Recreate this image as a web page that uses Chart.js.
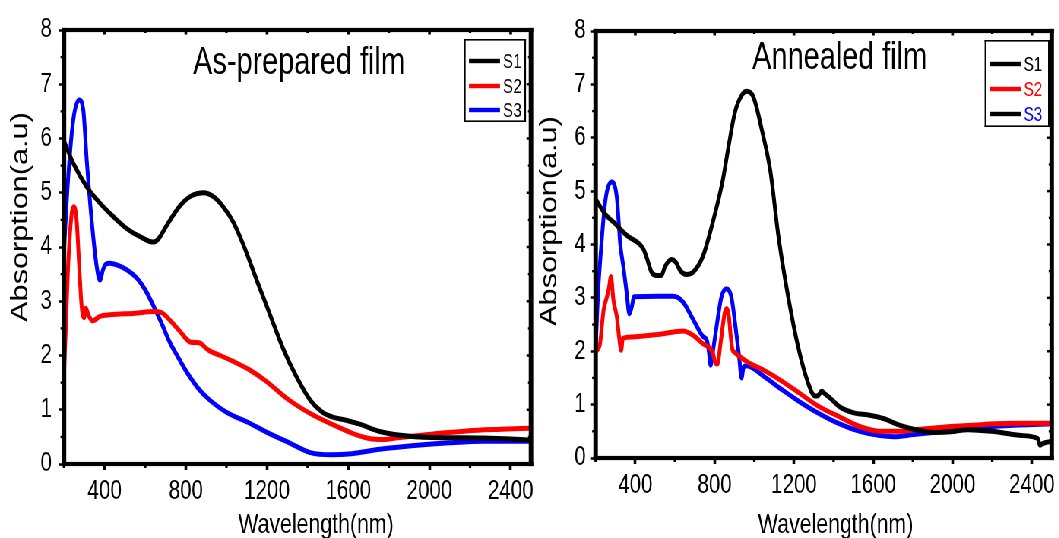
<!DOCTYPE html>
<html>
<head>
<meta charset="utf-8">
<script src="https://cdn.jsdelivr.net/npm/chart.js"></script>
<style>
html,body{margin:0;padding:0;background:#fff;overflow:hidden;width:1059px;height:538px}
#wrap{position:absolute;left:0;top:0;width:1394px;height:538px;transform:scaleX(0.76);transform-origin:0 0}
canvas{position:absolute;top:0}
</style>
</head>
<body>
<div id="wrap"><canvas id="c1"></canvas><canvas id="c2"></canvas></div>
<script>
// ---------- data ----------
const seriesNames = ['S1', 'S2', 'S3'];
const xTickLabels = [400, 800, 1200, 1600, 2000, 2400];
const xMinorTicks = [200, 600, 1000, 1400, 1800, 2200];
const yTickLabels = [0, 1, 2, 3, 4, 5, 6, 7, 8];
const yMinorTicks = [0.5, 1.5, 2.5, 3.5, 4.5, 5.5, 6.5, 7.5];

// As-prepared film
const asS1Wl  = [200, 246, 312, 377, 443, 509, 575, 640, 665, 706, 771, 830, 888, 935, 980, 1035, 1090, 1149, 1215, 1280, 1346, 1412, 1470, 1520, 1584, 1652, 1755, 1857, 2011, 2268, 2500];
const asS1Abs = [5.95, 5.54, 5.11, 4.81, 4.56, 4.34, 4.19, 4.09, 4.15, 4.40, 4.76, 4.95, 5.00, 4.93, 4.76, 4.45, 3.98, 3.39, 2.75, 2.12, 1.60, 1.18, 0.96, 0.87, 0.81, 0.74, 0.60, 0.53, 0.49, 0.48, 0.44];
const asS2Wl  = [200, 210, 221, 238, 249, 262, 275, 287, 299, 308, 320, 341, 377, 427, 550, 640, 680, 722, 770, 821, 848, 870, 900, 919, 970, 1034, 1116, 1198, 1297, 1413, 1515, 1618, 1703, 1772, 1857, 2011, 2182, 2353, 2500];
const asS2Abs = [1.65, 2.60, 3.70, 4.62, 4.74, 4.50, 3.64, 2.90, 2.70, 2.87, 2.75, 2.64, 2.72, 2.75, 2.78, 2.81, 2.79, 2.65, 2.45, 2.25, 2.24, 2.23, 2.13, 2.08, 2.00, 1.89, 1.73, 1.52, 1.21, 0.93, 0.74, 0.57, 0.47, 0.45, 0.49, 0.55, 0.61, 0.64, 0.66];
const asS3Wl  = [200, 221, 246, 275, 295, 312, 336, 361, 377, 392, 405, 427, 460, 509, 560, 600, 640, 680, 720, 760, 800, 860, 920, 1002, 1105, 1207, 1310, 1413, 1515, 1618, 1755, 1926, 2097, 2268, 2500];
const asS3Abs = [3.95, 5.30, 6.35, 6.71, 6.53, 5.60, 4.50, 3.64, 3.39, 3.58, 3.68, 3.70, 3.67, 3.58, 3.42, 3.21, 2.92, 2.60, 2.25, 1.98, 1.72, 1.40, 1.17, 0.95, 0.77, 0.57, 0.39, 0.21, 0.17, 0.19, 0.27, 0.34, 0.39, 0.42, 0.42];

// Annealed film
const anS1Wl  = [200, 250, 290, 357, 440, 457, 482, 507, 532, 549, 582, 604, 627, 657, 691, 741, 791, 841, 870, 902, 936, 962, 996, 1038, 1081, 1122, 1172, 1222, 1272, 1306, 1322, 1339, 1360, 1389, 1430, 1498, 1583, 1651, 1736, 1804, 1906, 1991, 2077, 2196, 2324, 2420, 2432, 2440, 2455, 2470, 2500];
const anS1Abs = [4.85, 4.56, 4.42, 4.17, 3.92, 3.76, 3.48, 3.42, 3.42, 3.58, 3.72, 3.67, 3.51, 3.44, 3.48, 3.78, 4.42, 5.20, 5.83, 6.47, 6.79, 6.87, 6.76, 6.15, 5.38, 4.15, 3.00, 2.07, 1.40, 1.16, 1.17, 1.25, 1.19, 1.10, 0.96, 0.85, 0.80, 0.74, 0.61, 0.54, 0.48, 0.49, 0.53, 0.50, 0.43, 0.38, 0.35, 0.24, 0.27, 0.29, 0.31];
const anS2Wl  = [200, 221, 240, 257, 268, 277, 290, 307, 320, 329, 337, 357, 524, 641, 691, 741, 791, 803, 814, 831, 851, 862, 872, 882, 890, 900, 919, 970, 1055, 1140, 1226, 1328, 1430, 1532, 1634, 1736, 1838, 1991, 2162, 2332, 2500];
const anS2Abs = [2.00, 2.12, 2.77, 3.02, 3.20, 3.40, 2.95, 2.64, 2.21, 2.02, 2.24, 2.26, 2.32, 2.38, 2.30, 2.14, 1.97, 1.79, 1.76, 2.18, 2.72, 2.80, 2.65, 2.25, 2.03, 1.98, 1.92, 1.79, 1.63, 1.44, 1.22, 0.96, 0.77, 0.59, 0.50, 0.50, 0.54, 0.59, 0.63, 0.65, 0.65];
const anS3Wl  = [200, 213, 223, 249, 280, 307, 324, 340, 357, 370, 382, 394, 524, 591, 641, 691, 740, 763, 771, 780, 791, 809, 834, 860, 885, 906, 923, 936, 946, 962, 1055, 1140, 1226, 1328, 1430, 1532, 1634, 1702, 1804, 1991, 2162, 2332, 2500];
const anS3Abs = [2.03, 3.14, 3.70, 4.82, 5.17, 4.88, 4.01, 3.58, 3.08, 2.70, 2.83, 3.02, 3.03, 3.03, 2.92, 2.60, 2.28, 2.18, 1.99, 1.74, 1.99, 2.44, 3.01, 3.17, 3.01, 2.44, 1.92, 1.50, 1.70, 1.73, 1.51, 1.28, 1.06, 0.83, 0.64, 0.50, 0.42, 0.40, 0.44, 0.51, 0.58, 0.62, 0.64];

// ---------- styling / layout ----------
const FONT = "'Liberation Sans', Arial, Helvetica, sans-serif";
const S = 0.76;       // horizontal squeeze applied to the whole page
const H = 538;
const seriesColors = ['#000000', '#ff0000', '#0000ff'];

const leftGeom = {
  canvasLeft: 0, canvasRight: 545, area: [64, 30, 531, 464], yPad: 9,
  title: {text: 'As-prepared film', x: 299, y: 74},
  xTitle: {text: 'Wavelength(nm)', x: 316, y: 533},
  yTitle: {text: 'Absorption(a.u)', x: 21, y: 217},
  legend: {box: [464, 39, 526, 122], rows: [61, 86, 110], line: [469, 500], textX: 503,
           lineCols: ['#000000', '#ff0000', '#0000ff'], textCols: ['#000000', '#000000', '#000000']}
};
const rightGeom = {
  canvasLeft: 524, canvasRight: 1059, area: [596, 31, 1055, 458], yPad: 6,
  title: {text: 'Annealed film', x: 840, y: 69},
  xTitle: {text: 'Wavelength(nm)', x: 836, y: 533},
  yTitle: {text: 'Absorption(a.u)', x: 550, y: 221},
  legend: {box: [985, 40, 1050, 127], rows: [64, 89, 114], line: [990, 1021], textX: 1024,
           lineCols: ['#000000', '#ff0000', '#000000'], textCols: ['#000000', '#ff0000', '#0000ff']}
};

function makeDecor(g) {
  const toCx = px => (px - g.canvasLeft) / S;
  return {
    id: 'decor',
    afterDraw(chart) {
      const ctx = chart.ctx, a = chart.chartArea, xs = chart.scales.x, ys = chart.scales.y;
      ctx.save();
      ctx.fillStyle = '#000';
      // minor ticks outside, small inner ticks on top / right
      xMinorTicks.forEach(v => {
        const p = xs.getPixelForValue(v);
        ctx.fillRect(p - 1.6, a.bottom, 3.2, 4);
        ctx.fillRect(p - 1.6, a.top, 3.2, 3);
      });
      xTickLabels.forEach(v => {
        const p = xs.getPixelForValue(v);
        ctx.fillRect(p - 1.8, a.top, 3.6, 4.5);
      });
      yMinorTicks.forEach(v => {
        const p = ys.getPixelForValue(v);
        ctx.fillRect(a.left - 3.5 / S, p - 1.2, 3.5 / S, 2.4);
        ctx.fillRect(a.right - 3 / S, p - 1.2, 3 / S, 2.4);
      });
      yTickLabels.forEach(v => {
        const p = ys.getPixelForValue(v);
        ctx.fillRect(a.right - 4.5 / S, p - 1.25, 4.5 / S, 2.5);
      });
      // frame
      const th = 4.2, tv = 4.5 / S;
      ctx.fillRect(a.left - tv / 2, a.top - th / 2, a.right - a.left + tv, th);
      ctx.fillRect(a.left - tv / 2, a.bottom - th / 2, a.right - a.left + tv, th);
      ctx.fillRect(a.left - tv / 2, a.top - th / 2, tv, a.bottom - a.top + th);
      ctx.fillRect(a.right - tv / 2, a.top - th / 2, tv, a.bottom - a.top + th);
      // panel title
      ctx.textAlign = 'center';
      ctx.textBaseline = 'alphabetic';
      ctx.font = '38px ' + FONT;
      ctx.fillText(g.title.text, toCx(g.title.x), g.title.y);
      // axis titles
      ctx.font = '28px ' + FONT;
      ctx.fillText(g.xTitle.text, toCx(g.xTitle.x), g.xTitle.y);
      ctx.save();
      ctx.translate(toCx(g.yTitle.x), g.yTitle.y);
      ctx.rotate(-Math.PI / 2);
      ctx.textBaseline = 'middle';
      ctx.font = '30.7px ' + FONT;
      ctx.fillText(g.yTitle.text, 0, 0);
      ctx.restore();
      // legend box
      const L = g.legend;
      const bl = toCx(L.box[0]), br = toCx(L.box[2]), bt = L.box[1], bb = L.box[3];
      const bh = 1.6, bv = 1.6 / S;
      ctx.fillStyle = '#fff';
      ctx.fillRect(bl, bt, br - bl, bb - bt);
      ctx.fillStyle = '#000';
      ctx.fillRect(bl, bt, br - bl, bh);
      ctx.fillRect(bl, bb - bh, br - bl, bh);
      ctx.fillRect(bl, bt, bv, bb - bt);
      ctx.fillRect(br - bv, bt, bv, bb - bt);
      ctx.font = '20px ' + FONT;
      ctx.textAlign = 'left';
      ctx.textBaseline = 'middle';
      chart.data.datasets.forEach((ds, i) => {
        ctx.fillStyle = L.lineCols[i];
        ctx.fillRect(toCx(L.line[0]), L.rows[i] - 2.2, toCx(L.line[1]) - toCx(L.line[0]), 4.4);
        ctx.fillStyle = L.textCols[i];
        ctx.fillText(ds.label, toCx(L.textX), L.rows[i] + 1);
      });
      ctx.restore();
    }
  };
}

function buildChart(id, g, wls, vals) {
  const canvas = document.getElementById(id);
  const cw = Math.round((g.canvasRight - g.canvasLeft) / S);
  const toCx = px => (px - g.canvasLeft) / S;
  canvas.width = cw; canvas.height = H;
  canvas.style.width = cw + 'px'; canvas.style.height = H + 'px';
  canvas.style.left = (g.canvasLeft / S) + 'px';
  const datasets = seriesNames.map((n, i) => ({
    label: n,
    data: wls[i].map((w, j) => ({x: w, y: vals[i][j]})),
    borderColor: seriesColors[i],
    backgroundColor: seriesColors[i],
    borderWidth: 5,
    pointRadius: 0,
    fill: false,
    cubicInterpolationMode: 'monotone',
    borderJoinStyle: 'round',
    borderCapStyle: 'round'
  }));
  return new Chart(canvas, {
    type: 'line',
    data: {datasets},
    plugins: [makeDecor(g)],
    options: {
      responsive: false,
      animation: false,
      devicePixelRatio: 1,
      layout: {padding: {left: 0, top: g.area[1], right: cw - toCx(g.area[2]), bottom: 0}},
      plugins: {legend: {display: false}, tooltip: {enabled: false}},
      scales: {
        x: {
          type: 'linear', min: 200, max: 2500,
          afterFit: s => { s.height = H - g.area[3]; },
          afterBuildTicks: s => { s.ticks = xTickLabels.map(v => ({value: v})); },
          grid: {drawOnChartArea: false, drawTicks: true, tickLength: 6, tickWidth: 3.6, tickColor: '#000'},
          border: {display: false},
          ticks: {font: {family: FONT, size: 27}, color: '#000', padding: 5, maxRotation: 0, autoSkip: false,
                  callback: v => String(v)}
        },
        y: {
          type: 'linear', min: 0, max: 8,
          afterFit: s => { s.width = toCx(g.area[0]); },
          afterBuildTicks: s => { s.ticks = yTickLabels.map(v => ({value: v})); },
          grid: {drawOnChartArea: false, drawTicks: true, tickLength: 7, tickWidth: 2.5, tickColor: '#000'},
          border: {display: false},
          ticks: {font: {family: FONT, size: 27}, color: '#000', padding: g.yPad, autoSkip: false,
                  callback: v => String(v)}
        }
      }
    }
  });
}

buildChart('c1', leftGeom, [asS1Wl, asS2Wl, asS3Wl], [asS1Abs, asS2Abs, asS3Abs]);
buildChart('c2', rightGeom, [anS1Wl, anS2Wl, anS3Wl], [anS1Abs, anS2Abs, anS3Abs]);
</script>
</body>
</html>
